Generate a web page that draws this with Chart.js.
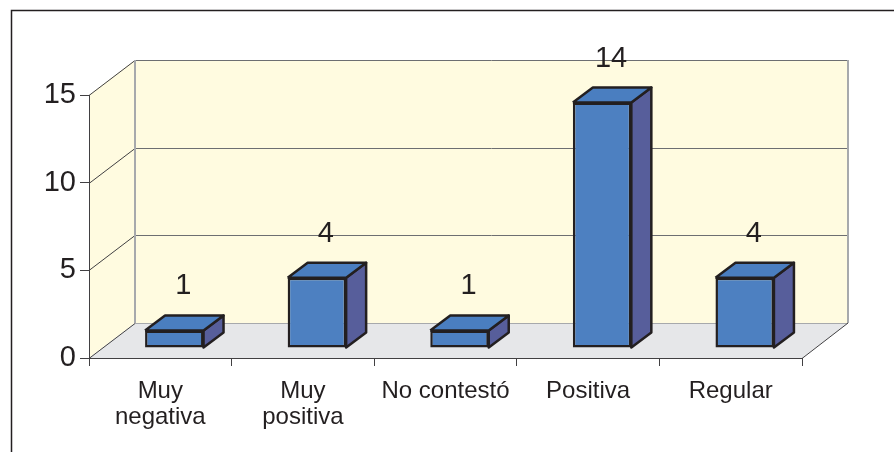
<!DOCTYPE html>
<html>
<head>
<meta charset="utf-8">
<script src="https://cdn.jsdelivr.net/npm/chart.js@4"></script>
<style>
  html, body { margin: 0; padding: 0; background: #fff; }
  #wrap { width: 894px; height: 452px; }
</style>
</head>
<body>
<div id="wrap"><canvas id="chart" width="894" height="452"></canvas></div>
<script>
// data
const categories = [['Muy', 'negativa'], ['Muy', 'positiva'], 'No contestó', 'Positiva', 'Regular'];
const counts = [1, 4, 1, 14, 4];
const yTicks = [0, 5, 10, 15];

const FONT = "'Liberation Sans', Arial, sans-serif";
const INK = '#231f20';
const wall = { dx: 46, dy: -35 };      // depth of the box
const barShift = { dx: 14, dy: -10 };  // bars stand a bit behind the front edge
const barDepth = { dx: 20, dy: -15 };

function line(ctx, pts, color, width) {
    ctx.beginPath();
    ctx.moveTo(pts[0][0], pts[0][1]);
    for (let i = 1; i < pts.length; i++) ctx.lineTo(pts[i][0], pts[i][1]);
    ctx.strokeStyle = color;
    ctx.lineWidth = width;
    ctx.stroke();
}

function poly(ctx, pts, fill) {
    ctx.beginPath();
    ctx.moveTo(pts[0][0], pts[0][1]);
    for (let i = 1; i < pts.length; i++) ctx.lineTo(pts[i][0], pts[i][1]);
    ctx.closePath();
    ctx.fillStyle = fill;
    ctx.fill();
}

// walls, floor and grid of the 3d box
const boxPlugin = {
    id: 'box',
    beforeDraw(chart) {
        const ctx = chart.ctx;
        const a = chart.chartArea;
        const y = chart.scales.y;
        const L = a.left, R = a.right, T = a.top, B = a.bottom;
        const dx = wall.dx, dy = wall.dy;
        ctx.save();
        // frame around the figure
        line(ctx, [[11.5, 452], [11.5, 10.5], [894, 10.5]], INK, 1.5);

        poly(ctx, [[L, T], [L + dx, T + dy], [L + dx, B + dy], [L, B]], '#fffbe0');
        poly(ctx, [[L + dx, T + dy], [R + dx, T + dy], [R + dx, B + dy], [L + dx, B + dy]], '#fffbe0');
        poly(ctx, [[L, B], [R, B], [R + dx, B + dy], [L + dx, B + dy]], '#e6e7e9');

        yTicks.forEach(v => {
            const py = Math.round(y.getPixelForValue(v)) + 0.5;
            line(ctx, [[L + dx, py + dy], [R + dx, py + dy]], v === 0 ? '#a7a9ac' : '#6d6e71', 1);
            line(ctx, [[L, py], [L + dx, py + dy]], '#414042', 1);
        });
        line(ctx, [[L + dx, T + dy], [L + dx, B + dy]], '#a7a9ac', 2);
        line(ctx, [[R + dx, T + dy], [R + dx, B + dy]], '#a7a9ac', 2);
        line(ctx, [[R, B + 0.5], [R + dx, B + dy]], '#414042', 1);
        ctx.restore();
    },
    beforeDatasetDraw(chart) {
        chart.ctx.save();
        chart.ctx.translate(barShift.dx, barShift.dy);
    },
    afterDatasetDraw(chart, args) {
        const ctx = chart.ctx;
        args.meta.data.forEach((bar, i) => {
            const p = bar.getProps(['x', 'y', 'base', 'width'], true);
            const l = p.x - p.width / 2, r = p.x + p.width / 2;
            const dx = barDepth.dx, dy = barDepth.dy;
            const side = [[r, p.y], [r + dx, p.y + dy], [r + dx, p.base + dy], [r, p.base]];
            const top = [[l, p.y], [l + dx, p.y + dy], [r + dx, p.y + dy], [r, p.y]];
            [[side, '#575e9b'], [top, '#4a7ec0']].forEach(([pts, fill]) => {
                poly(ctx, pts, fill);
                ctx.lineJoin = 'round';
                line(ctx, pts.concat([pts[0]]), INK, 2.5);
            });
            ctx.fillStyle = INK;
            ctx.font = '29px ' + FONT;
            ctx.textAlign = 'center';
            ctx.textBaseline = 'middle';
            ctx.fillText(String(counts[i]), p.x + 9, p.y - 44);
        });
        ctx.restore();
    }
};

new Chart(document.getElementById('chart'), {
    type: 'bar',
    data: {
        labels: categories,
        datasets: [{
            data: counts,
            backgroundColor: '#4d80c1',
            borderColor: INK,
            borderWidth: 2.5,
            borderSkipped: false,
            barPercentage: 0.41,
            categoryPercentage: 1,
            clip: false
        }]
    },
    options: {
        responsive: false,
        animation: false,
        devicePixelRatio: 1,
        layout: { padding: { left: 11, right: 92, top: 95, bottom: 14 } },
        plugins: { legend: { display: false }, tooltip: { enabled: false } },
        scales: {
            x: {
                grid: { offset: true, drawOnChartArea: false, tickLength: 8, color: '#414042' },
                border: { color: '#414042', width: 1 },
                ticks: { color: INK, font: { family: FONT, size: 24, lineHeight: 1.1 }, padding: 12, maxRotation: 0 },
                afterFit: s => { s.height = 80; }
            },
            y: {
                min: 0,
                max: 15,
                afterBuildTicks: s => { s.ticks = yTicks.map(v => ({ value: v })); },
                grid: { drawOnChartArea: false, tickLength: 9, color: '#414042' },
                border: { color: '#414042', width: 1 },
                ticks: { color: INK, font: { family: FONT, size: 29 }, padding: 4 },
                afterFit: s => { s.width = 78; }
            }
        }
    },
    plugins: [boxPlugin]
});
</script>
</body>
</html>
